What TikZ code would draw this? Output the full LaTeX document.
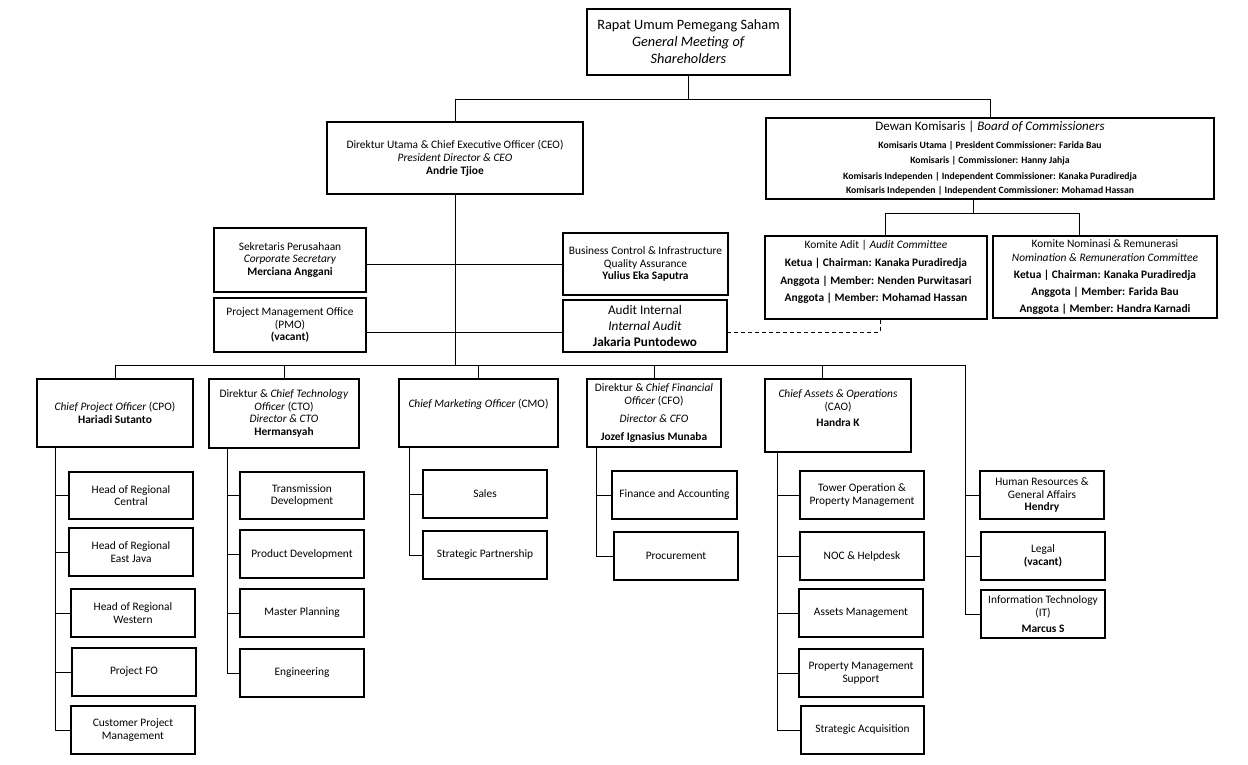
\documentclass[tikz,border=0pt]{standalone}
\usepackage{fontspec}
\setmainfont{Carlito}
\newcommand\orgbox[5]{\node[box,minimum width={(#3-#1)*1pt},minimum height={(#4-#2)*1pt}] (#5) at ({(#1+#3)/2},{(#2+#4)/2})}
\tikzset{
  box/.style={draw,line width=1.2pt,inner sep=1pt,align=center,font=\fontsize{11.4}{12.8}\selectfont},
  conn/.style={line width=1pt},
  big/.style={font=\fontsize{14.3}{17}\selectfont},
  mid/.style={font=\fontsize{13.2}{16}\selectfont},
  small/.style={font=\fontsize{9.7}{15.5}\selectfont},
}
\begin{document}
\begin{tikzpicture}[x=1pt,y=-1pt]
\useasboundingbox[fill=white] (0,0) rectangle (1248,765);
% top
\orgbox{587}{9}{790}{75}{gms}[big] {Rapat Umum Pemegang Saham\\ \textit{General Meeting of}\\ \textit{Shareholders}};
\orgbox{327}{122}{583}{194}{ceo} {Direktur Utama \& Chief Executive Officer (CEO)\\ \textit{President Director \& CEO}\\ \textbf{Andrie Tjioe}};
\orgbox{766}{118}{1214}{199}{boc}[small] {{\fontsize{13}{15}\selectfont Dewan Komisaris | \textit{Board of Commissioners}}\\[2pt]
 \textbf{Komisaris Utama | President Commissioner: Farida Bau}\\
 \textbf{Komisaris | Commissioner: Hanny Jahja}\\
 \textbf{Komisaris Independen | Independent Commissioner: Kanaka Puradiredja}\\[-1pt]
 \textbf{Komisaris Independen | Independent Commissioner: Mohamad Hassan}};
\orgbox{765}{236}{987}{319}{ac}[font=\fontsize{11.4}{17.8}\selectfont] {Komite Adit | \textit{Audit Committee}\\
 \textbf{Ketua | Chairman: Kanaka Puradiredja}\\
 \textbf{Anggota | Member: Nenden Purwitasari}\\
 \textbf{Anggota | Member: Mohamad Hassan}\\[-5pt]};
\orgbox{993}{236}{1217}{318}{nrc}[font=\fontsize{11.4}{17}\selectfont] {Komite Nominasi \& Remunerasi\\[-3pt]
 \textit{Nomination \& Remuneration Committee}\\
 \textbf{Ketua | Chairman: Kanaka Puradiredja}\\
 \textbf{Anggota | Member: Farida Bau}\\
 \textbf{Anggota | Member: Handra Karnadi}};
% staff
\orgbox{214}{228}{366}{292}{cs} {Sekretaris Perusahaan\\ \textit{Corporate Secretary}\\ \textbf{Merciana Anggani}};
\orgbox{214}{298}{366}{352}{pmo} {Project Management Office\\ (PMO)\\ \textbf{(vacant)}};
\orgbox{563}{233}{728}{295}{bc} {Business Control \& Infrastructure\\ Quality Assurance\\ \textbf{Yulius Eka Saputra}};
\orgbox{563}{300}{727}{352}{ai}[mid] {Audit Internal\\ \textit{Internal Audit}\\ \textbf{Jakaria Puntodewo}};
% chiefs
\orgbox{37}{379}{193}{447}{cpo} {\textit{Chief Project Officer} (CPO)\\ \textbf{Hariadi Sutanto}};
\orgbox{209}{379}{359}{448}{cto} {Direktur \& \textit{Chief Technology}\\ \textit{Officer} (CTO)\\ \textit{Director \& CTO}\\ \textbf{Hermansyah}};
\orgbox{399}{379}{558}{447}{cmo} {\textit{Chief Marketing Officer} (CMO)\\[6pt]};
\orgbox{587}{379}{721}{447}{cfo} {Direktur \& \textit{Chief Financial}\\ \textit{Officer} (CFO)\\[5pt] \textit{Director \& CFO}\\[5pt] \textbf{Jozef Ignasius Munaba}};
\orgbox{765}{379}{911}{452}{cao} {\textit{Chief Assets \& Operations}\\ (CAO)\\[4pt] \textbf{Handra K}\\[2pt]};
% CPO units
\orgbox{69}{472}{193}{519}{r1} {Head of Regional\\ Central};
\orgbox{69}{528}{193}{576}{r2} {Head of Regional\\ East Java};
\orgbox{71}{589}{195}{637}{r3} {Head of Regional\\ Western};
\orgbox{72}{648}{196}{696}{r4} {Project FO};
\orgbox{71}{706}{195}{754}{r5} {Customer Project\\ Management};
% CTO units
\orgbox{240}{472}{364}{519}{t1} {Transmission\\ Development};
\orgbox{240}{530}{364}{578}{t2} {Product Development};
\orgbox{240}{589}{364}{637}{t3} {Master Planning};
\orgbox{240}{649}{364}{697}{t4} {Engineering};
% CMO units
\orgbox{423}{470}{547}{518}{m1} {Sales};
\orgbox{423}{531}{547}{579}{m2} {Strategic Partnership};
% CFO units
\orgbox{612}{471}{737}{519}{f1} {Finance and Accounting};
\orgbox{614}{532}{738}{580}{f2} {Procurement};
% CAO units
\orgbox{800}{471}{924}{519}{a1} {Tower Operation \&\\ Property Management};
\orgbox{800}{532}{924}{580}{a2} {NOC \& Helpdesk};
\orgbox{799}{589}{923}{637}{a3} {Assets Management};
\orgbox{799}{649}{923}{697}{a4} {Property Management\\ Support};
\orgbox{801}{706}{924}{754}{a5} {Strategic Acquisition};
% right units
\orgbox{980}{471}{1104}{519}{h1} {Human Resources \&\\ General Affairs\\ \textbf{Hendry}};
\orgbox{981}{532}{1105}{580}{h2} {Legal\\ \textbf{(vacant)}};
\orgbox{981}{590}{1105}{638}{h3} {Information Technology\\ (IT)\\[3pt] \textbf{Marcus S}};
% connectors top
\coordinate (top) at (687,100);
\draw[conn] (gms.south) -- (gms.south |- top);
\draw[conn] (ceo.north) -- (ceo.north |- top) -- (boc.north |- top) -- (boc.north);
\coordinate (bocj) at (973,213);
\coordinate (acj) at (885,213);
\coordinate (nrcj) at (1079,213);
\draw[conn] (boc.south -| bocj) -- (bocj);
\draw[conn] (ac.north -| acj) -- (acj) -- (nrcj) -- (nrc.north -| nrcj);
\coordinate (dsh) at (880,332);
\draw[conn,dashed,dash pattern=on 4pt off 3pt] (ac.south -| dsh) -- (dsh) -- (ai.east |- dsh);
% CEO spine and staff
\coordinate (bus) at (455,365);
\coordinate (busR) at (965,365);
\draw[conn] (ceo.south) -- (ceo.south |- bus);
\draw[conn] (cs.east |- bc.west) -- (bc.west);
\draw[conn] (pmo.east |- dsh) -- (ai.west |- dsh);
\draw[conn] (cpo.north) -- (cpo.north |- bus) -- (busR);
\foreach \n in {cto,cmo,cfo} \draw[conn] (\n.north) -- (\n.north |- bus);
\coordinate (caod) at (822,365);
\draw[conn] (caod) -- (cao.north -| caod);
\draw[conn] (busR) -- (busR |- h3.west) -- (h3.west);
\foreach \n in {h1,h2} \draw[conn] (busR |- \n.west) -- (\n.west);
% spines
\coordinate (s1) at (55,0);
\draw[conn] (cpo.south -| s1) -- (s1 |- r5.west) -- (r5.west);
\foreach \n in {r1,r2,r3,r4} \draw[conn] (s1 |- \n.west) -- (\n.west);
\coordinate (s2) at (227,0);
\draw[conn] (cto.south -| s2) -- (s2 |- t4.west) -- (t4.west);
\foreach \n in {t1,t2,t3} \draw[conn] (s2 |- \n.west) -- (\n.west);
\coordinate (s3) at (409,0);
\draw[conn] (cmo.south -| s3) -- (s3 |- m2.west) -- (m2.west);
\draw[conn] (s3 |- m1.west) -- (m1.west);
\coordinate (s4) at (596,0);
\draw[conn] (cfo.south -| s4) -- (s4 |- f2.west) -- (f2.west);
\draw[conn] (s4 |- f1.west) -- (f1.west);
\coordinate (s5) at (777,0);
\draw[conn] (cao.south -| s5) -- (s5 |- a5.west) -- (a5.west);
\foreach \n in {a1,a2,a3,a4} \draw[conn] (s5 |- \n.west) -- (\n.west);
\end{tikzpicture}
\end{document}
